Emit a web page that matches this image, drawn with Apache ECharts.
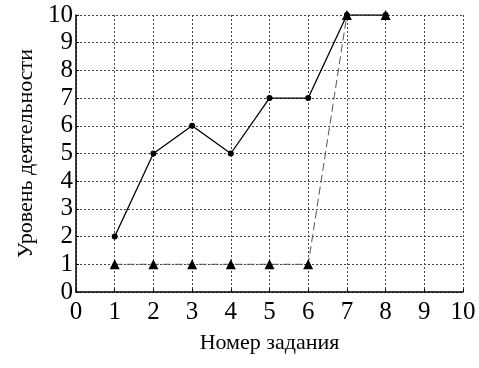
<!DOCTYPE html>
<html><head><meta charset="utf-8">
<script src="https://cdn.jsdelivr.net/npm/echarts@6/dist/echarts.min.js"></script>
<style>html,body{margin:0;padding:0;background:#fff}#c{width:479px;height:368px}</style>
</head><body><div id="c"></div>
<script>
const tasks = [1, 2, 3, 4, 5, 6, 7, 8];
const solidValues = [2, 5, 6, 5, 7, 7, 10, 10];
const dashedValues = [1, 1, 1, 1, 1, 1, 10, 10];
const xName = 'Номер задания';
const yName = 'Уровень деятельности';
const font = 'Liberation Serif';

const chart = echarts.init(document.getElementById('c'));
const axisCommon = {
  min: 0, max: 10, interval: 1,
  axisLine: {show: true, lineStyle: {color: '#000', width: 1.5}},
  axisTick: {show: true, length: 3, inside: true, lineStyle: {color: '#000'}},
  axisLabel: {color: '#000', fontFamily: font, fontSize: 25},
  splitLine: {show: true, lineStyle: {type: [2, 2], color: '#444', width: 1}},
  nameTextStyle: {color: '#000', fontFamily: font, fontSize: 22}
};
chart.setOption({
  animation: false,
  grid: {left: 76, right: 16, top: 15, bottom: 76},
  xAxis: Object.assign({}, axisCommon, {
    type: 'value', name: xName, nameLocation: 'middle', nameGap: 40,
    axisLabel: Object.assign({}, axisCommon.axisLabel, {margin: 8})
  }),
  yAxis: Object.assign({}, axisCommon, {
    type: 'value', name: yName, nameLocation: 'middle', nameGap: 28,
    axisLabel: Object.assign({}, axisCommon.axisLabel, {margin: 3, lineHeight: 20})
  }),
  series: [
    {
      type: 'line', data: tasks.map((t, i) => [t, solidValues[i]]),
      symbol: 'circle', symbolSize: 6, showAllSymbol: true,
      lineStyle: {color: '#000', width: 1.3}, itemStyle: {color: '#000'}, z: 3
    },
    {
      type: 'line', data: tasks.map((t, i) => [t, dashedValues[i]]),
      symbol: 'triangle', symbolSize: 10, showAllSymbol: true,
      lineStyle: {color: '#555', width: 1, type: [8, 4]}, itemStyle: {color: '#000'}, z: 4
    }
  ]
});
</script></body></html>
